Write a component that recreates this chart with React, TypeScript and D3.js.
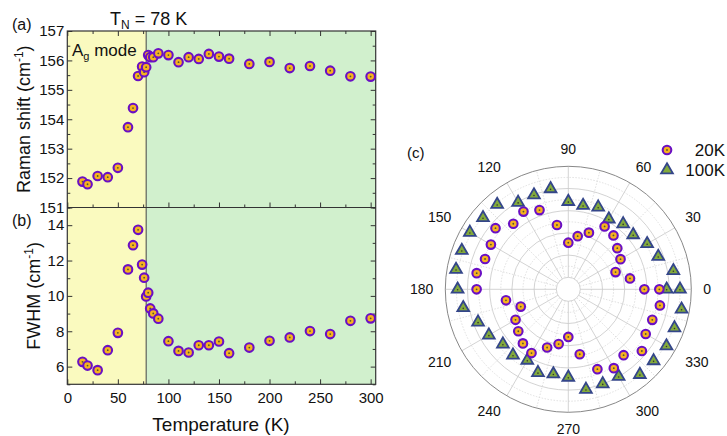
import React, { useRef, useEffect } from 'react';
import * as d3 from 'd3';

// temperature-dependent data (K)
const tempRaman = [15, 20, 30, 40, 50, 60, 65, 70, 74, 76, 78, 80, 82, 85, 90, 100, 110, 120, 130, 140, 150, 160, 180, 200, 220, 240, 260, 280, 300];
const ramanShift = [151.88, 151.79, 152.07, 152.03, 152.35, 153.73, 154.38, 155.47, 155.79, 155.6, 155.77, 156.18, 156.11, 156.11, 156.24, 156.18, 155.94, 156.11, 156.05, 156.22, 156.13, 156.06, 155.88, 155.95, 155.74, 155.81, 155.65, 155.46, 155.45];
const tempFwhm = [15, 20, 30, 40, 50, 60, 65, 70, 74, 76, 78, 80, 82, 85, 90, 100, 110, 120, 130, 140, 150, 160, 180, 200, 220, 240, 260, 280, 300];
const fwhm = [6.27, 6.06, 5.8, 6.93, 7.91, 11.5, 12.87, 13.74, 11.77, 11.03, 9.97, 10.18, 9.29, 9.01, 8.71, 7.44, 6.89, 6.8, 7.21, 7.21, 7.42, 6.76, 7.08, 7.46, 7.65, 8.01, 7.84, 8.59, 8.73];
const TN = 78;

// polar data: angle (deg) and intensity (a.u.)
const angles = [0, 10, 20, 30, 40, 50, 60, 70, 80, 90, 100, 110, 120, 130, 140, 150, 160, 170, 180, 190, 200, 210, 220, 230, 240, 250, 260, 270, 280, 290, 300, 310, 320, 330, 340, 350, 360];
const int20K = [5.77, 4.56, 3.45, 4.35, 4.68, 5.25, 5.46, 4.35, 3.78, 3.12, 4.8, 6.51, 7.0, 6.63, 7.48, 6.97, 6.9, 7.3, 7.18, 4.62, 3.48, 4.41, 4.8, 5.28, 5.55, 4.5, 3.93, 3.21, 4.86, 6.58, 7.12, 6.67, 7.57, 6.97, 6.97, 7.3, 7.12];
const int100K = [7.78, 8.53, 7.54, 7.12, 6.55, 6.61, 6.22, 6.79, 6.58, 6.82, 8.11, 7.96, 7.96, 8.89, 8.95, 9.16, 9.13, 9.19, 8.89, 8.53, 7.57, 7.18, 6.61, 6.67, 6.31, 6.91, 6.67, 6.85, 8.08, 7.99, 7.99, 8.95, 8.95, 9.13, 9.1, 9.28, 8.98];
const angleLabels = [0, 30, 60, 90, 120, 150, 180, 210, 240, 270, 300, 330];

const FONT = '"Liberation Sans", Arial, sans-serif';
const PURPLE = '#6a0fc4';
const ORANGE = '#f7b21e';
const TRI_STROKE = '#34468a';
const TRI_FILL = '#82aa3c';

export default function App() {
  const ref = useRef<SVGSVGElement>(null);

  useEffect(() => {
    const svg = d3.select(ref.current);
    svg.selectAll('*').remove();

    const x = d3.scaleLinear().domain([0, 305]).range([67.3, 375.7]);
    const yTop = d3.scaleLinear().domain([151, 157]).range([207.5, 31]);
    const yBot = d3.scaleLinear().domain([5, 15]).range([384.3, 207.5]);

    const circleMarker = (g, cx, cy) => {
      g.append('circle').attr('cx', cx).attr('cy', cy).attr('r', 4.3)
        .attr('fill', ORANGE).attr('stroke', PURPLE).attr('stroke-width', 2.1);
      g.append('circle').attr('cx', cx).attr('cy', cy).attr('r', 0.9).attr('fill', '#553');
    };

    const panel = (y) => {
      const [yb, yt] = y.range();
      svg.append('rect').attr('x', x(0)).attr('y', yt).attr('width', x(TN) - x(0)).attr('height', yb - yt).attr('fill', '#fafabf');
      svg.append('rect').attr('x', x(TN)).attr('y', yt).attr('width', x(305) - x(TN)).attr('height', yb - yt).attr('fill', '#d1f0cd');
      svg.append('line').attr('x1', x(TN)).attr('x2', x(TN)).attr('y1', yt).attr('y2', yb).attr('stroke', '#444').attr('stroke-width', 1);
    };

    panel(yTop);
    panel(yBot);

    // ticks helper
    const ticksX = (yPos, dir, labels) => {
      const g = svg.append('g').attr('transform', `translate(0,${yPos})`);
      const ax = d3.axisBottom(x).tickValues([0, 50, 100, 150, 200, 250, 300]).tickSize(dir * 5).tickFormat(labels ? d3.format('d') : () => '');
      g.call(ax);
      g.select('.domain').remove();
      g.selectAll('line').attr('stroke', '#333');
      g.selectAll('text').attr('font-family', FONT).attr('font-size', 15).attr('fill', '#111').attr('y', 8).attr('dy', '0.71em');
      const gm = svg.append('g').attr('transform', `translate(0,${yPos})`);
      gm.call(d3.axisBottom(x).tickValues([25, 75, 125, 175, 225, 275]).tickSize(dir * 3).tickFormat(() => ''));
      gm.select('.domain').remove();
      gm.selectAll('line').attr('stroke', '#333');
    };

    const ticksY = (y, xPos, dir, major, minor, labels) => {
      const g = svg.append('g').attr('transform', `translate(${xPos},0)`);
      g.call(d3.axisLeft(y).tickValues(major).tickSize(dir * 5).tickFormat(labels ? d3.format('d') : () => ''));
      g.select('.domain').remove();
      g.selectAll('line').attr('stroke', '#333');
      g.selectAll('text').attr('font-family', FONT).attr('font-size', 15).attr('fill', '#111').attr('x', -3);
      const gm = svg.append('g').attr('transform', `translate(${xPos},0)`);
      gm.call(d3.axisLeft(y).tickValues(minor).tickSize(dir * 3).tickFormat(() => ''));
      gm.select('.domain').remove();
      gm.selectAll('line').attr('stroke', '#333');
    };

    // top panel axes
    ticksY(yTop, x(0), -1, d3.range(151, 158, 1), d3.range(151.5, 157, 1), true);
    ticksY(yTop, x(305), 1, d3.range(151, 158, 1), d3.range(151.5, 157, 1), false);
    ticksX(yTop(157), 1, false);
    ticksX(yTop(151), -1, false);

    // bottom panel axes
    ticksY(yBot, x(0), -1, [6, 8, 10, 12, 14], [5, 7, 9, 11, 13, 15], true);
    ticksY(yBot, x(305), 1, [6, 8, 10, 12, 14], [5, 7, 9, 11, 13, 15], false);
    ticksX(yBot(5), -1, true);

    // frames
    svg.append('rect').attr('x', x(0)).attr('y', yTop(157)).attr('width', x(305) - x(0)).attr('height', yBot(5) - yTop(157))
      .attr('fill', 'none').attr('stroke', '#333').attr('stroke-width', 1.2);
    svg.append('line').attr('x1', x(0)).attr('x2', x(305)).attr('y1', yTop(151)).attr('y2', yTop(151)).attr('stroke', '#333').attr('stroke-width', 1.2);

    // points
    const gp = svg.append('g');
    tempRaman.forEach((t, i) => circleMarker(gp, x(t), yTop(ramanShift[i])));
    tempFwhm.forEach((t, i) => circleMarker(gp, x(t), yBot(fwhm[i])));

    // texts
    const txt = (s, xp, yp, size, anchor = 'start') =>
      svg.append('text').attr('x', xp).attr('y', yp).attr('font-family', FONT).attr('font-size', size).attr('fill', '#111').attr('text-anchor', anchor).text(s);

    const tn = txt('T', 110, 25, 18);
    tn.append('tspan').attr('font-size', 12).attr('dy', 4).text('N');
    tn.append('tspan').attr('dy', -4).text(' = 78 K');
    const ag = txt('A', 72, 56, 17);
    ag.append('tspan').attr('font-size', 11).attr('dy', 4).text('g');
    ag.append('tspan').attr('dy', -4).text(' mode');
    txt('(a)', 12, 30, 16);
    txt('(b)', 12, 226, 16);
    txt('Temperature (K)', 221, 431, 19, 'middle');

    const ry = svg.append('text').attr('transform', `translate(30,${yTop(154)}) rotate(-90)`).attr('font-family', FONT).attr('font-size', 18).attr('fill', '#111').attr('text-anchor', 'middle').text('Raman shift (cm');
    ry.append('tspan').attr('font-size', 12).attr('dy', -7).text('-1');
    ry.append('tspan').attr('dy', 7).text(')');
    const fy = svg.append('text').attr('transform', `translate(40,${yBot(10)}) rotate(-90)`).attr('font-family', FONT).attr('font-size', 18).attr('fill', '#111').attr('text-anchor', 'middle').text('FWHM (cm');
    fy.append('tspan').attr('font-size', 12).attr('dy', -7).text('-1');
    fy.append('tspan').attr('dy', 7).text(')');

    // polar plot
    const cx = 568.3, cy = 289.3, R = 123, r0 = 12;
    const r = d3.scaleLinear().domain([0, 10]).range([r0, R]);
    const pg = svg.append('g').attr('transform', `translate(${cx},${cy})`);
    d3.range(0, 10).forEach(v => {
      pg.append('circle').attr('r', r(v)).attr('fill', 'none')
        .attr('stroke', v % 2 === 0 ? '#c8c8c8' : '#d8d8d8')
        .attr('stroke-width', 0.8)
        .attr('stroke-dasharray', v % 2 === 0 ? null : '1.5,1.5');
    });
    d3.range(0, 360, 15).forEach(a => {
      const rad = (a * Math.PI) / 180;
      const solid = a % 30 === 0;
      pg.append('line')
        .attr('x1', r0 * Math.cos(rad)).attr('y1', -r0 * Math.sin(rad))
        .attr('x2', R * Math.cos(rad)).attr('y2', -R * Math.sin(rad))
        .attr('stroke', solid ? '#c8c8c8' : '#d8d8d8').attr('stroke-width', 0.8)
        .attr('stroke-dasharray', solid ? null : '1.5,1.5');
    });
    pg.append('circle').attr('r', R).attr('fill', 'none').attr('stroke', '#888').attr('stroke-width', 1);

    angleLabels.forEach(a => {
      const rad = (a * Math.PI) / 180;
      const lr = R + 12;
      const lx = lr * Math.cos(rad), ly = -lr * Math.sin(rad);
      const c = Math.cos(rad), s = Math.sin(rad);
      const anchor = Math.abs(c) < 0.2 ? 'middle' : c > 0 ? 'start' : 'end';
      pg.append('text').attr('x', lx).attr('y', ly).attr('dy', s > 0.2 ? '0' : s < -0.2 ? '0.72em' : '0.36em')
        .attr('font-family', FONT).attr('font-size', 14).attr('fill', '#111').attr('text-anchor', anchor).text(a);
    });

    const tri = d3.symbol().type(d3.symbolTriangle).size(60);
    angles.forEach((a, i) => {
      const rad = (a * Math.PI) / 180;
      const rv = r(int100K[i]);
      const px = rv * Math.cos(rad), py = -rv * Math.sin(rad);
      pg.append('path').attr('d', tri()).attr('transform', `translate(${px},${py})`)
        .attr('fill', TRI_FILL).attr('stroke', TRI_STROKE).attr('stroke-width', 1.8);
      pg.append('circle').attr('cx', px).attr('cy', py + 0.5).attr('r', 0.8).attr('fill', '#333');
    });
    angles.forEach((a, i) => {
      const rad = (a * Math.PI) / 180;
      const rv = r(int20K[i]);
      circleMarker(pg, rv * Math.cos(rad), -rv * Math.sin(rad));
    });

    // legend
    circleMarker(svg, 667, 150);
    svg.append('path').attr('d', tri()).attr('transform', 'translate(667,170)')
      .attr('fill', TRI_FILL).attr('stroke', TRI_STROKE).attr('stroke-width', 1.8);
    txt('20K', 725, 156, 17, 'end');
    txt('100K', 725, 176, 17, 'end');
    txt('(c)', 407, 158, 15);
  }, []);

  return (
    <svg ref={ref} width={727} height={436} style={{ position: 'absolute', left: 0, top: 0, background: '#fff' }} />
  );
}
